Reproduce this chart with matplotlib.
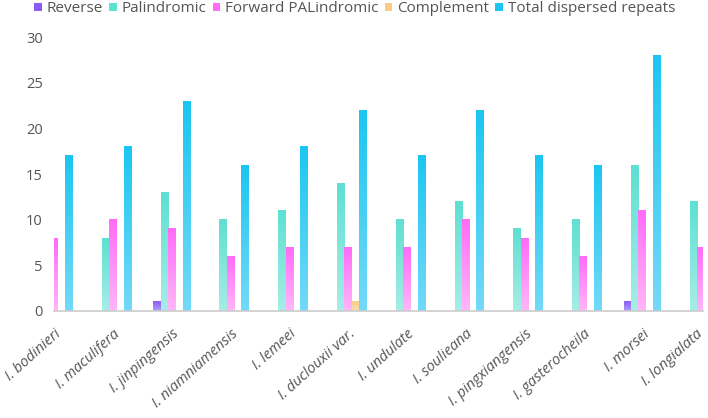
import numpy as np
import matplotlib
matplotlib.use("Agg")
import matplotlib.pyplot as plt
import matplotlib.transforms as mtransforms
from matplotlib.colors import LinearSegmentedColormap
from matplotlib.patches import Patch

plt.rcParams.update({"font.family": ["Open Sans", "DejaVu Sans"], "font.size": 10.5})

species = ["I. bodinieri", "I. maculifera", "I. jinpingensis", "I. niamniamensis",
           "I. lemeei", "I. duclouxii var.", "I. undulate", "I. soulieana",
           "I. pingxiangensis", "I. gasterocheila", "I. morsei", "I. longialata"]
reverse = [0, 0, 1, 0, 0, 0, 0, 0, 0, 0, 1, 0]
palindromic = [9, 8, 13, 10, 11, 14, 10, 12, 9, 10, 16, 12]
forward = [8, 10, 9, 6, 7, 7, 7, 10, 8, 6, 11, 7]
complement = [0, 0, 0, 0, 0, 1, 0, 0, 0, 0, 0, 0]
total = [17, 18, 23, 16, 18, 22, 17, 22, 17, 16, 28, 19]

names = ["Reverse", "Palindromic", "Forward PALindromic", "Complement", "Total dispersed repeats"]
series = [reverse, palindromic, forward, complement, total]
# (top colour, bottom colour) of each gradient
grads = [("#8a5cf5", "#b39cf9"), ("#5ee0d2", "#a6ede6"), ("#ff6cf8", "#ffb6f9"),
         ("#f9cd86", "#fbe0b3"), ("#1cc6f0", "#74d9f8")]

fig = plt.figure(figsize=(7.08, 4.18), dpi=100)
ax = fig.add_axes([54/708, 1-311/418, (703-54)/708, (311-37.4)/418])

x = np.arange(len(species))
w = 0.124
for k, (vals, (top, bot)) in enumerate(zip(series, grads)):
    bars = ax.bar(x + (k - 2) * w, vals, w, color="none", linewidth=0)
    cmap = LinearSegmentedColormap.from_list(f"g{k}", [bot, top])
    grad = np.linspace(0, 1, 64).reshape(-1, 1)
    for b in bars:
        h = b.get_height()
        if h <= 0:
            continue
        x0 = b.get_x()
        ax.imshow(grad, cmap=cmap, origin="lower", aspect="auto",
                  extent=(x0, x0 + b.get_width(), 0, h), zorder=2)

# the original view is scrolled: starts mid first group, cuts the last one
ax.set_xlim(0.0, 11.04)
ax.set_ylim(0, 30)
ax.set_yticks([0, 5, 10, 15, 20, 25, 30])
ax.set_xticks(x)
ax.set_xticklabels(species, rotation=42, ha="right", va="center",
                   rotation_mode="anchor", fontstyle="italic", fontsize=11)
ax.tick_params(axis="both", length=0, colors="#555555", labelsize=10.5)
ax.tick_params(axis="y", pad=8)
ax.tick_params(axis="x", pad=13)
labels = ax.get_xticklabels()
for i, lab in enumerate(labels):
    dx = 0.055 if i < len(labels) - 1 else 0.0   # keep the last one inside the figure
    lab.set_transform(lab.get_transform() +
                      mtransforms.ScaledTranslation(dx, -0.03, fig.dpi_scale_trans))
for s in ["top", "right", "left"]:
    ax.spines[s].set_visible(False)
ax.spines["bottom"].set_color("#cccccc")
ax.spines["bottom"].set_linewidth(1.2)
ax.spines["bottom"].set_zorder(3)

handles = [Patch(facecolor=t, edgecolor="none", label=n) for n, (t, b) in zip(names, grads)]
fig.legend(handles=handles, loc="center", bbox_to_anchor=(354.5/708, 1-9/418), ncol=5,
           frameon=False, handlelength=0.5, handleheight=0.5, handletextpad=0.3,
           columnspacing=0.42, labelcolor="#555555", fontsize=11,
           borderpad=0, borderaxespad=0)

fig.savefig("out.png", dpi=100)
